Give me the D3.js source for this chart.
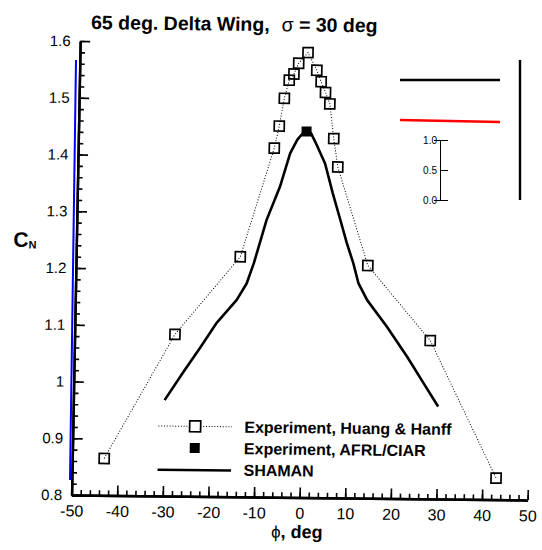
<!DOCTYPE html>
<html>
<head>
<meta charset="utf-8">
<script src="https://cdn.jsdelivr.net/npm/d3@7"></script>
<style>
  body { margin: 0; background: #fff; }
  svg { display: block; font-family: "Liberation Sans", Arial, Helvetica, sans-serif; }
</style>
</head>
<body>
<svg id="chart" width="542" height="550"></svg>
<script>
// Normal-force coefficient vs. roll angle, 65 deg delta wing at sigma = 30 deg

// Experiment, Huang & Hanff
const hhPhi = [-43, -28, -14, -7, -6, -5, -4, -3, -2, 0, 2, 3, 4, 5, 6, 7, 14, 28, 43];
const hhCN  = [0.865, 1.085, 1.223, 1.415, 1.454, 1.503, 1.535, 1.546, 1.565, 1.584,
               1.553, 1.533, 1.514, 1.494, 1.433, 1.383, 1.210, 1.079, 0.838];

// Experiment, AFRL/CIAR
const afrlPhi = [0];
const afrlCN  = [1.445];

// SHAMAN computation
const shPhi = [-30, -26, -22.5, -19, -14.6, -12.5, -11, -8.4, -5.6, -3.5, -2, -1, 0,
               1, 2.5, 4.2, 5, 6, 8, 9.3, 10.8, 12, 14, 18.4, 23, 26.7, 30];
const shCN  = [0.969, 1.019, 1.061, 1.105, 1.147, 1.176, 1.212, 1.288, 1.347, 1.406, 1.430, 1.440, 1.445,
               1.442, 1.418, 1.389, 1.366, 1.337, 1.284, 1.249, 1.214, 1.179, 1.149, 1.103, 1.050, 1.004, 0.963];

// Axis ticks
const xTickValues = [-50, -40, -30, -20, -10, 0, 10, 20, 30, 40, 50];
const xTickLabels = ["-50", "-40", "-30", "-20", "-10", "0", "10", "20", "30", "40", "50"];
const yTickValues = [0.8, 0.9, 1.0, 1.1, 1.2, 1.3, 1.4, 1.5, 1.6];
const yTickLabels = ["0.8", "0.9", "1", "1.1", "1.2", "1.3", "1.4", "1.5", "1.6"];

const legendLabels = ["Experiment, Huang & Hanff", "Experiment, AFRL/CIAR", "SHAMAN"];

const W = 456, H = 454;
const svg = d3.select("#chart");

const frame = svg.append("g")
  .attr("transform", "matrix(1,0.011,-0.019,1,80.2,41)");

const x = d3.scaleLinear().domain([-50, 50]).range([0, W]);
const y = d3.scaleLinear().domain([0.8, 1.6]).range([H, 0]);

const xMinor = d3.range(-50, 50.001, 2);
const yMinor = d3.range(0.8, 1.6001, 0.02);

function styleAxis(g, fontSize) {
  g.attr("font-family", null).attr("font-size", null);
  g.select(".domain").attr("stroke", "#000").attr("stroke-width", 2.4);
  g.selectAll(".tick line").attr("stroke", "#000").attr("stroke-width", 1.6);
  g.selectAll(".tick text").attr("fill", "#000").style("font-size", fontSize + "px");
}

frame.append("g")
  .attr("transform", `translate(0,${H})`)
  .call(d3.axisBottom(x).tickValues(xMinor).tickSizeInner(-5).tickSizeOuter(0).tickFormat(() => ""))
  .call(g => styleAxis(g, 16));
frame.append("g")
  .call(d3.axisLeft(y).tickValues(yMinor).tickSizeInner(-5).tickSizeOuter(0).tickFormat(() => ""))
  .call(g => styleAxis(g, 15));
frame.append("g")
  .attr("transform", `translate(0,${H})`)
  .call(d3.axisBottom(x).tickValues(xTickValues).tickSizeInner(-10).tickSizeOuter(0)
        .tickPadding(10).tickFormat((d, i) => xTickLabels[i]))
  .call(g => styleAxis(g, 16));
frame.append("g")
  .call(d3.axisLeft(y).tickValues(yTickValues).tickSizeInner(-10).tickSizeOuter(0)
        .tickPadding(9.5).tickFormat((d, i) => yTickLabels[i]))
  .call(g => styleAxis(g, 15));

// test strokes in empty space
svg.append("line").attr("x1", 400).attr("y1", 80).attr("x2", 500).attr("y2", 80)
  .attr("stroke", "#000").attr("stroke-width", 2.4);
svg.append("line").attr("x1", 520).attr("y1", 60).attr("x2", 520).attr("y2", 200)
  .attr("stroke", "#000").attr("stroke-width", 2.4);
svg.append("line").attr("x1", 400).attr("y1", 120).attr("x2", 500).attr("y2", 122)
  .attr("stroke", "red").attr("stroke-width", 2.4);
svg.append("g").attr("transform", "translate(440,140)")
  .call(d3.axisLeft(d3.scaleLinear().domain([0, 1]).range([60, 0])).ticks(3).tickSizeInner(-8));
svg.append("path").attr("d", "M76,60 L70,480").attr("stroke", "blue").attr("stroke-width", 2).attr("fill", "none");

const xt = frame.append("text")
  .attr("x", x(0) - 2).attr("y", H + 40.5)
  .attr("text-anchor", "middle")
  .style("font-size", "18px").style("font-weight", "bold");
xt.append("tspan").style("font-weight", "normal").style("font-size", "17px").text("ϕ");
xt.append("tspan").text(", deg");

const cn = frame.append("text")
  .attr("x", -63).attr("y", 206.5)
  .style("font-size", "21px").style("font-weight", "bold");
cn.append("tspan").text("C");
cn.append("tspan").attr("dy", 1.5).style("font-size", "11px").text("N");

const title = frame.append("text")
  .attr("x", 10.6).attr("y", -12)
  .style("font-size", "19.5px").style("font-weight", "bold");
title.append("tspan").text("65 deg. Delta Wing,");
title.append("tspan").attr("x", 201).style("font-weight", "normal").text("σ");
title.append("tspan").text(" = 30 deg");

const shData = shPhi.map((p, i) => [p, shCN[i]]);
frame.append("path")
  .datum(shData)
  .attr("fill", "none").attr("stroke", "#000").attr("stroke-width", 2.6)
  .attr("stroke-linejoin", "round")
  .attr("d", d3.line().x(d => x(d[0])).y(d => y(d[1])));

const hhData = hhPhi.map((p, i) => [p, hhCN[i]]);
frame.append("path")
  .datum(hhData)
  .attr("fill", "none").attr("stroke", "#000").attr("stroke-width", 1)
  .attr("stroke-dasharray", "1,1.8")
  .attr("d", d3.line().x(d => x(d[0])).y(d => y(d[1])));

const sq = 10;
frame.append("g").selectAll("rect")
  .data(hhData).join("rect")
  .attr("x", d => x(d[0]) - sq / 2).attr("y", d => y(d[1]) - sq / 2)
  .attr("width", sq).attr("height", sq)
  .attr("fill", "none").attr("stroke", "#000").attr("stroke-width", 1.7);

const afrlData = afrlPhi.map((p, i) => [p, afrlCN[i]]);
frame.append("g").selectAll("rect")
  .data(afrlData).join("rect")
  .attr("x", d => x(d[0]) - sq / 2).attr("y", d => y(d[1]) - sq / 2)
  .attr("width", sq).attr("height", sq)
  .attr("fill", "#000");

const lg = frame.append("g").attr("transform", "translate(85.5,384)");
const rowH = 21.6;
lg.append("line").attr("x1", 0).attr("x2", 73.5).attr("y1", 0).attr("y2", 0)
  .attr("stroke", "#000").attr("stroke-width", 1).attr("stroke-dasharray", "1,1.8");
lg.append("rect").attr("x", 36.75 - sq / 2 - 0.5).attr("y", -sq / 2 - 0.5)
  .attr("width", sq + 1).attr("height", sq + 1)
  .attr("fill", "#fff").attr("stroke", "#000").attr("stroke-width", 1.7);
lg.append("rect").attr("x", 36.75 - sq / 2).attr("y", rowH - sq / 2)
  .attr("width", sq).attr("height", sq).attr("fill", "#000");
lg.append("line").attr("x1", 0).attr("x2", 73.5).attr("y1", 2 * rowH + 0.6).attr("y2", 2 * rowH + 0.6)
  .attr("stroke", "#000").attr("stroke-width", 2.6);
lg.selectAll("text.lbl")
  .data(legendLabels).join("text")
  .attr("class", "lbl")
  .attr("x", 86).attr("y", (d, i) => i * rowH)
  .attr("dy", "0.36em")
  .style("font-size", "16px").style("font-weight", "bold")
  .text(d => d);
</script>
</body>
</html>
